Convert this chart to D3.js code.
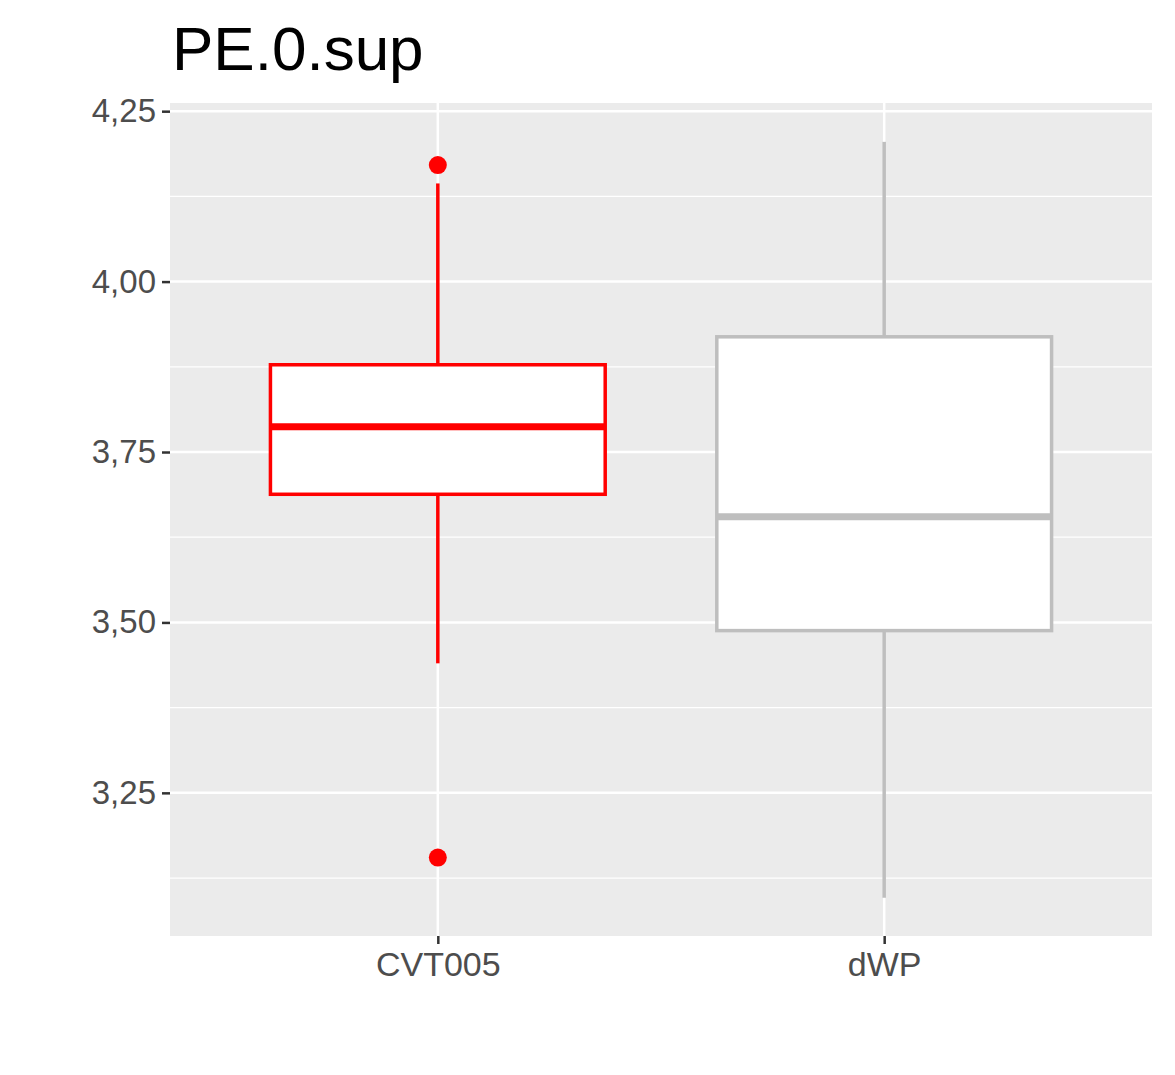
<!DOCTYPE html>
<html>
<head>
<meta charset="UTF-8">
<title>PE.0.sup</title>
<style>body{margin:0;background:#fff;font-family:"Liberation Sans",Arial,sans-serif;}</style>
</head>
<body>
<div id="viz-wrapper"></div>
<script src="https://d3js.org/d3.v7.min.js"></script>
<script>
// data
var groups = ["CVT005", "dWP"];
var colors = ["#ff0000", "#bebebe"];
var whiskerLow = [3.44, 3.096];
var q1 = [3.688, 3.488];
var median = [3.787, 3.655];
var q3 = [3.878, 3.919];
var whiskerHigh = [4.144, 4.205];
var outliers = [[4.171, 3.155], []];
var yTicks = [3.25, 3.5, 3.75, 4.0, 4.25];

var width = 1175, height = 1075;
var padL = 170, padR = 1152, padT = 103, padB = 936;

var svg = d3.select("#viz-wrapper").append("svg")
  .attr("width", width).attr("height", height);

var y = d3.scaleLinear().domain([3.040, 4.262]).range([padB, padT]);
// discrete axis with ggplot-style 0.6 expansion
var x = d3.scaleLinear().domain([0.4, 2.6]).range([padL, padR]);
var unit = x(2) - x(1);

svg.append("rect").attr("x", padL).attr("y", padT)
  .attr("width", padR - padL).attr("height", padB - padT).attr("fill", "#ebebeb");

// minor grid
var minor = [3.125, 3.375, 3.625, 3.875, 4.125];
svg.selectAll(".minor").data(minor).enter().append("line")
  .attr("x1", padL).attr("x2", padR)
  .attr("y1", d => y(d)).attr("y2", d => y(d))
  .attr("stroke", "#fff").attr("stroke-width", 1.2);
// major grid
svg.selectAll(".major").data(yTicks).enter().append("line")
  .attr("x1", padL).attr("x2", padR)
  .attr("y1", d => y(d)).attr("y2", d => y(d))
  .attr("stroke", "#fff").attr("stroke-width", 2.5);
svg.selectAll(".vgrid").data(groups).enter().append("line")
  .attr("x1", (d, i) => x(i + 1)).attr("x2", (d, i) => x(i + 1))
  .attr("y1", padT).attr("y2", padB)
  .attr("stroke", "#fff").attr("stroke-width", 2.5);

// y axis
var yAxis = svg.append("g").attr("transform", "translate(" + padL + ",0)")
  .call(d3.axisLeft(y).tickValues(yTicks).tickSize(8).tickPadding(6)
    .tickFormat(d => d3.format(".2f")(d).replace(".", ",")));
yAxis.select(".domain").remove();
yAxis.selectAll("line").attr("stroke", "#333").attr("stroke-width", 2.5);
yAxis.selectAll("text").attr("fill", "#4d4d4d").style("font-size", "33px")
  .style("font-family", "Liberation Sans, Arial, sans-serif");

// x axis
var xAxis = svg.append("g").attr("transform", "translate(0," + padB + ")")
  .call(d3.axisBottom(x).tickValues([1, 2]).tickSize(8).tickPadding(8)
    .tickFormat(d => groups[d - 1]));
xAxis.select(".domain").remove();
xAxis.selectAll("line").attr("stroke", "#333").attr("stroke-width", 2.5);
xAxis.selectAll("text").attr("fill", "#4d4d4d").style("font-size", "34px")
  .style("font-family", "Liberation Sans, Arial, sans-serif");

// boxes
var hw = unit * 0.75 / 2;
groups.forEach(function(g, i) {
  var cx = x(i + 1), c = colors[i];
  svg.append("line").attr("x1", cx).attr("x2", cx)
    .attr("y1", y(q3[i])).attr("y2", y(whiskerHigh[i]))
    .attr("stroke", c).attr("stroke-width", 3.5);
  svg.append("line").attr("x1", cx).attr("x2", cx)
    .attr("y1", y(q1[i])).attr("y2", y(whiskerLow[i]))
    .attr("stroke", c).attr("stroke-width", 3.5);
  svg.append("rect").attr("x", cx - hw).attr("y", y(q3[i]))
    .attr("width", hw * 2).attr("height", y(q1[i]) - y(q3[i]))
    .attr("fill", "#fff").attr("stroke", c).attr("stroke-width", 3.5);
  svg.append("line").attr("x1", cx - hw).attr("x2", cx + hw)
    .attr("y1", y(median[i])).attr("y2", y(median[i]))
    .attr("stroke", c).attr("stroke-width", 7);
  svg.selectAll(".out" + i).data(outliers[i]).enter().append("circle")
    .attr("cx", cx).attr("cy", d => y(d)).attr("r", 9).attr("fill", c);
});

svg.append("text").attr("x", 172).attr("y", 70)
  .style("font-size", "62px").attr("fill", "#000").text("PE.0.sup");
</script>
</body>
</html>
